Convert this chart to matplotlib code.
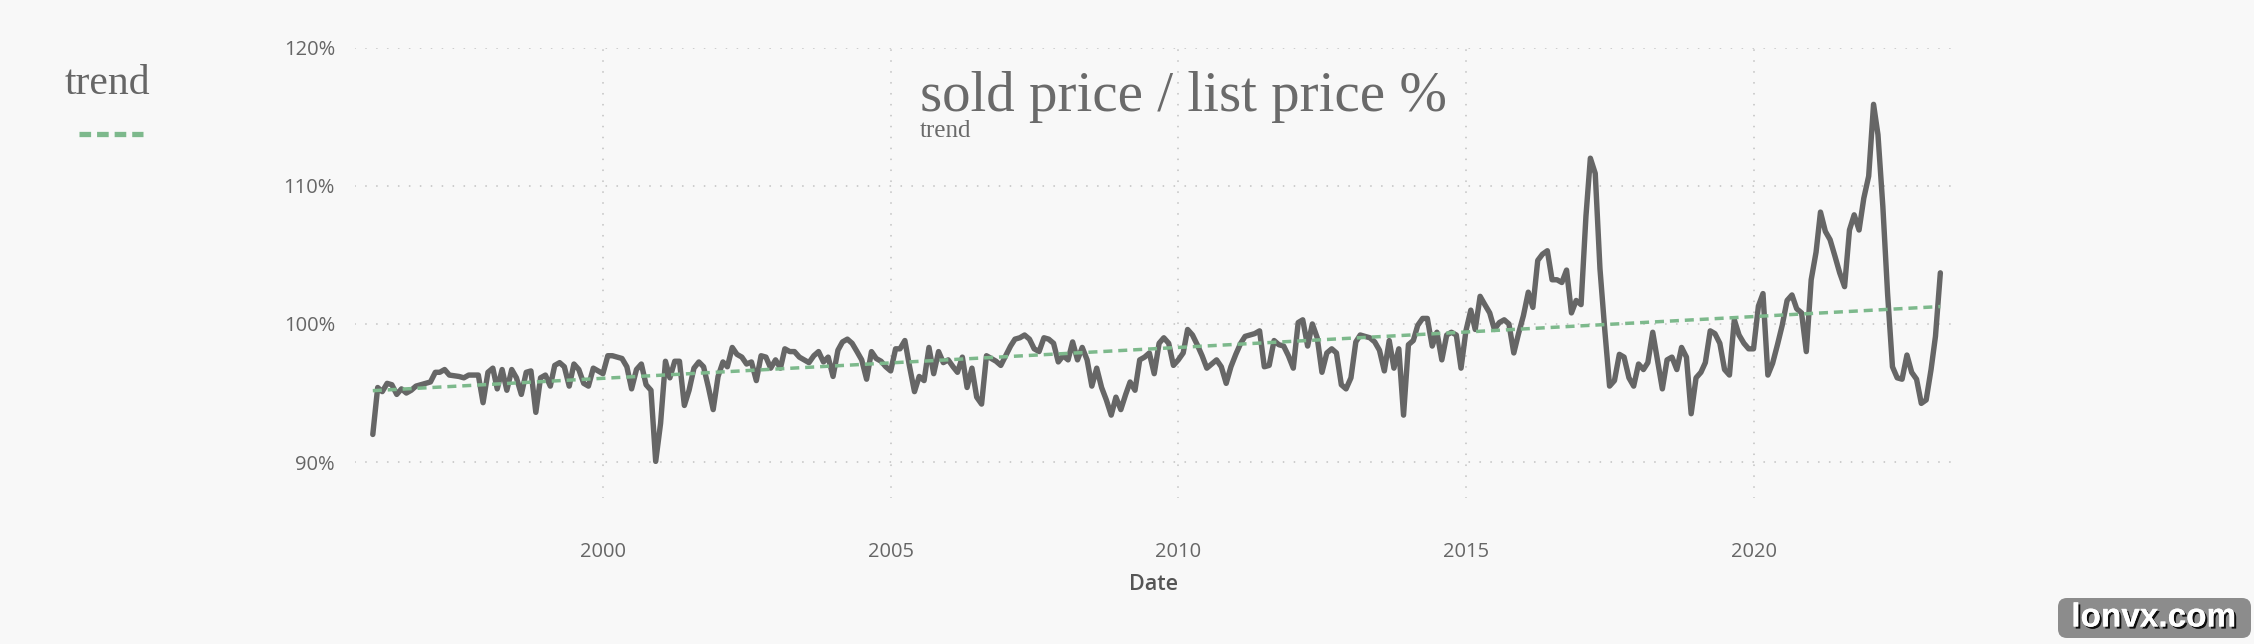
import matplotlib
matplotlib.use("Agg")
import matplotlib.pyplot as plt
import matplotlib.transforms as mtransforms
import matplotlib.patheffects as pe
from matplotlib.patches import FancyBboxPatch
from matplotlib.lines import Line2D
import pandas as pd

# ---------------- data (monthly sold/list price %, Jan 1996 - Apr 2023) ----------------
start_month = "1996-01-01"
ratio_1996 = [92.0, 95.4, 95.1, 95.7, 95.6, 94.9, 95.3, 95.0, 95.2, 95.5, 95.6, 95.7]
ratio_1997 = [95.8, 96.5, 96.5, 96.7, 96.3, 96.25, 96.2, 96.1, 96.3, 96.3, 96.3, 94.3]
ratio_1998 = [96.5, 96.8, 95.3, 96.7, 95.2, 96.7, 96.1, 94.9, 96.5, 96.6, 93.6, 96.1]
ratio_1999 = [96.3, 95.5, 97.0, 97.2, 96.9, 95.5, 97.1, 96.7, 95.7, 95.5, 96.8, 96.6]
ratio_2000 = [96.4, 97.7, 97.7, 97.6, 97.5, 96.9, 95.3, 96.7, 97.1, 95.6, 95.2, 90.05]
ratio_2001 = [92.8, 97.3, 96.1, 97.3, 97.3, 94.1, 95.2, 96.8, 97.25, 96.9, 95.4, 93.8]
ratio_2002 = [96.2, 97.25, 96.9, 98.3, 97.8, 97.6, 97.1, 97.25, 95.9, 97.7, 97.6, 96.8]
ratio_2003 = [97.4, 96.8, 98.2, 98.0, 98.0, 97.6, 97.4, 97.2, 97.7, 98.0, 97.25, 97.6]
ratio_2004 = [96.2, 98.1, 98.7, 98.9, 98.6, 98.0, 97.4, 96.0, 98.0, 97.5, 97.3, 96.9]
ratio_2005 = [96.6, 98.2, 98.2, 98.8, 96.9, 95.1, 96.2, 95.9, 98.3, 96.4, 98.0, 97.2]
ratio_2006 = [97.4, 96.9, 96.5, 97.6, 95.4, 96.8, 94.7, 94.2, 97.7, 97.5, 97.3, 97.0]
ratio_2007 = [97.7, 98.4, 98.9, 99.0, 99.2, 98.9, 98.2, 98.0, 99.0, 98.9, 98.6, 97.25]
ratio_2008 = [97.7, 97.4, 98.7, 97.4, 98.3, 97.4, 95.5, 96.8, 95.4, 94.5, 93.4, 94.7]
ratio_2009 = [93.8, 94.9, 95.8, 95.2, 97.4, 97.6, 97.9, 96.4, 98.6, 99.0, 98.6, 97.0]
ratio_2010 = [97.4, 97.9, 99.6, 99.2, 98.5, 97.7, 96.8, 97.1, 97.4, 96.9, 95.7, 96.9]
ratio_2011 = [97.8, 98.6, 99.1, 99.2, 99.3, 99.5, 96.9, 97.0, 98.8, 98.5, 98.4, 97.7]
ratio_2012 = [96.8, 100.1, 100.3, 98.4, 100.0, 99.0, 96.5, 97.9, 98.2, 97.9, 95.6, 95.3]
ratio_2013 = [96.1, 98.7, 99.2, 99.1, 99.0, 98.7, 98.1, 96.6, 98.8, 96.8, 98.2, 93.4]
ratio_2014 = [98.5, 98.8, 99.9, 100.4, 100.4, 98.4, 99.4, 97.4, 99.2, 99.4, 99.2, 96.8]
ratio_2015 = [99.5, 101.0, 99.6, 102.0, 101.4, 100.8, 99.6, 100.1, 100.3, 100.0, 97.9, 99.3]
ratio_2016 = [100.6, 102.3, 101.2, 104.6, 105.05, 105.3, 103.2, 103.2, 103.0, 103.9, 100.8, 101.7]
ratio_2017 = [101.4, 107.8, 112.0, 110.9, 104.0, 99.5, 95.5, 95.9, 97.8, 97.6, 96.1, 95.5]
ratio_2018 = [97.1, 96.7, 97.2, 99.4, 97.4, 95.3, 97.4, 97.6, 96.7, 98.3, 97.6, 93.5]
ratio_2019 = [96.1, 96.5, 97.2, 99.5, 99.3, 98.6, 96.7, 96.3, 100.3, 99.2, 98.6, 98.2]
ratio_2020 = [98.2, 101.3, 102.2, 96.3, 97.15, 98.5, 99.9, 101.7, 102.1, 101.1, 100.8, 98.0]
ratio_2021 = [103.2, 105.2, 108.1, 106.7, 106.1, 104.9, 103.7, 102.7, 106.8, 107.9, 106.8, 109.1]
ratio_2022 = [110.7, 115.9, 113.7, 108.5, 102.2, 96.9, 96.1, 96.0, 97.75, 96.5, 96.0, 94.25]
ratio_2023 = [94.5, 96.7, 99.1, 103.7]

trend_endpoints = [95.17, 101.26]          # trend value at first and last month
y_ticks = [90, 100, 110, 120]
y_tick_labels = ["90%", "100%", "110%", "120%"]
x_tick_years = [2000, 2005, 2010, 2015, 2020]
x_tick_labels = ["2000", "2005", "2010", "2015", "2020"]

ratio = (ratio_1996 + ratio_1997 + ratio_1998 + ratio_1999 + ratio_2000 + ratio_2001 +
         ratio_2002 + ratio_2003 + ratio_2004 + ratio_2005 + ratio_2006 + ratio_2007 +
         ratio_2008 + ratio_2009 + ratio_2010 + ratio_2011 + ratio_2012 + ratio_2013 +
         ratio_2014 + ratio_2015 + ratio_2016 + ratio_2017 + ratio_2018 + ratio_2019 +
         ratio_2020 + ratio_2021 + ratio_2022 + ratio_2023)
dates = pd.date_range(start_month, periods=len(ratio), freq="MS")

# ---------------- figure ----------------
W, H = 2254, 644
BG = "#f8f8f8"
LINE = "#666666"
GREEN = "#7db98c"
TXT = "#666666"

fig = plt.figure(figsize=(W / 100, H / 100), dpi=100, facecolor=BG)
ax_l, ax_r, ax_t, ax_b = 355, 1952, 47.7, 498
ax = fig.add_axes([ax_l / W, (H - ax_b) / H, (ax_r - ax_l) / W, (ax_b - ax_t) / H])
ax.set_facecolor(BG)

ax.plot(dates, ratio, color=LINE, lw=3.9, solid_joinstyle="round", solid_capstyle="round", zorder=3)
ax.plot([dates[0], dates[-1]], trend_endpoints, color=GREEN, lw=2.5,
        dashes=(2.6, 1.7), zorder=4)

ax.set_xlim(pd.Timestamp("1995-09-10"), pd.Timestamp("2023-06-14"))
ax.set_ylim(87.4, 120)

ax.set_yticks(y_ticks)
ax.set_yticklabels(y_tick_labels)
ax.set_xticks([pd.Timestamp(f"{y}-01-01") for y in x_tick_years])
ax.set_xticklabels(x_tick_labels)

tick_family = ["Open Sans", "DejaVu Sans"]
for lab in ax.get_yticklabels() + ax.get_xticklabels():
    lab.set_fontfamily(tick_family)
    lab.set_fontsize(14.5)
    lab.set_color(TXT)
ax.tick_params(axis="y", length=0, pad=14.4)
ax.tick_params(axis="x", length=0, pad=32)

grid_kw = dict(color="#c4c4c4", lw=1.3, dashes=(0.05, 6.0), dash_capstyle="round")
ax.grid(True, axis="both", **grid_kw)
ax.set_axisbelow(True)
for s in ax.spines.values():
    s.set_visible(False)

ax.set_xlabel("Date", fontfamily=tick_family, fontsize=15.5,
              fontweight="semibold", color="#555555", va="center")
ax.xaxis.set_label_coords(0.5, (ax_b - 584) / (ax_b - ax_t))

# ---------------- titles ----------------
fig.text(920 / W, 1 - 111 / H, "sold price / list price %", fontfamily="Liberation Serif",
         fontsize=41, color="#6a6a6a", ha="left", va="baseline")
fig.text(920 / W, 1 - 137 / H, "trend", fontfamily="Liberation Serif",
         fontsize=18, color="#6a6a6a", ha="left", va="baseline")

# ---------------- legend ----------------
fig.text(65 / W, 1 - 94 / H, "trend", fontfamily="Liberation Serif",
         fontsize=30, color="#666666", ha="left", va="baseline")
fig.add_artist(Line2D([79 / W, 143 / W], [1 - 134 / H, 1 - 134 / H], transform=fig.transFigure,
                      color=GREEN, lw=3.8, dashes=(2.2, 1.13)))

# ---------------- watermark ----------------
pix = mtransforms.IdentityTransform()
box = FancyBboxPatch((2058, H - 638), 193, 40, boxstyle="round,pad=0,rounding_size=9",
                     transform=pix, facecolor="#8c8c8c", edgecolor="none")
fig.add_artist(box)
fig.text(2154 / W, (H - 618) / H, "lonvx.com", fontfamily="Liberation Sans", fontweight="bold",
         fontsize=24, color="white", ha="center", va="center",
         path_effects=[pe.withSimplePatchShadow(offset=(1.5, -1.5), shadow_rgbFace="black", alpha=0.9),
                       pe.Normal()])

fig.savefig("out.png", dpi=100, facecolor=BG)
